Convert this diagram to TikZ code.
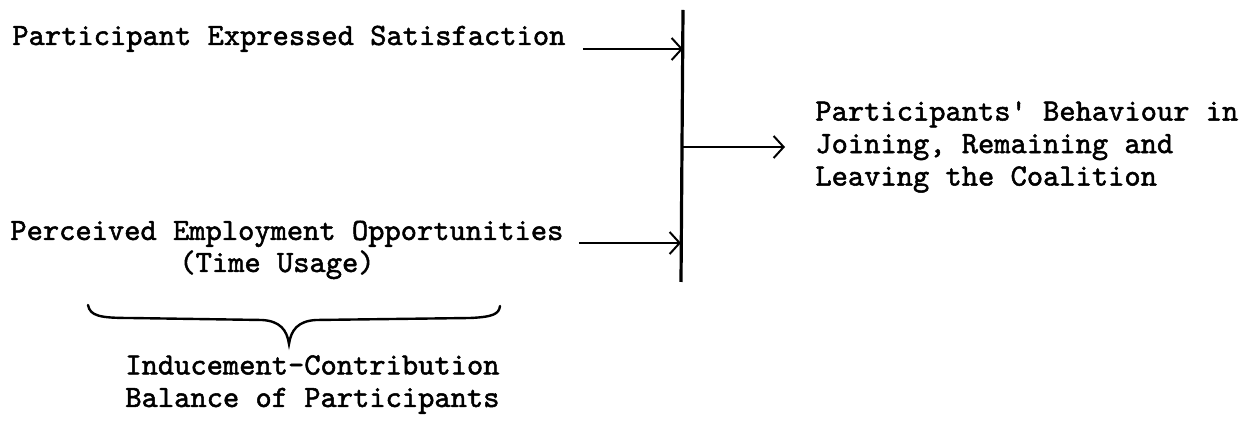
\documentclass[tikz,border=0pt]{standalone}
\usepackage{fontspec}
\setmonofont{lmmono10-regular.otf}[BoldFont=lmmono10-regular.otf,BoldFeatures={FakeBold=1.6}]
\usepackage{tikz}
\usetikzlibrary{arrows.meta,positioning}

\begin{document}
\begin{tikzpicture}[x=0.5pt,y=-0.5pt,>={Straight Barb[length=5pt,width=11pt]},
  txt/.style={font=\ttfamily\bfseries\fontsize{15.49}{16.25}\selectfont,inner sep=0pt},
  link/.style={->,line width=1pt},
  bar/.style={line width=1.6pt},
  brc/.style={line width=1.2pt,line cap=round}]
  \path[use as bounding box] (0,0) rectangle (1259,426);

  \node[txt,anchor=base west] (sat) at (12,45)  {Participant Expressed Satisfaction};
  \node[txt,anchor=base west] (opp) at (10,240) {Perceived Employment Opportunities};
  \node[txt,anchor=base]      (use) at (277,272) {(Time Usage)};
  \node[txt,anchor=west,align=left] (beh) at (815,147)
        {Participants' Behaviour in\\Joining, Remaining and\\Leaving the Coalition};
  \node[txt,anchor=base west,align=left] (ind) at (125,407)
        {Inducement-Contribution\\Balance of Participants};

  \coordinate (bartop) at (683,10);
  \coordinate (barbot) at (681,282);
  \coordinate (in1) at (683,49);
  \coordinate (in2) at (681,243);
  \coordinate (out) at (682,147);

  \draw[bar] (bartop) -- (barbot);
  \draw[link] ([xshift=8.5pt,yshift=-2pt]sat.base east) -- (in1);
  \draw[link] ([xshift=7.5pt,yshift=-1.5pt]opp.base east) -- (in2);
  \draw[link,shorten >=15pt] (out) -- (out -| beh.west);

  % brace under the two inputs
  \draw[brc] (88,305) .. controls (90,316) and (100,318) .. (130,318) -- (262,320)
        .. controls (280,321) and (287,330) .. (289,344)
        .. controls (291,330) and (298,321) .. (316,320) -- (470,318)
        .. controls (493,317) and (499,314) .. (500,306);
\end{tikzpicture}
\end{document}
